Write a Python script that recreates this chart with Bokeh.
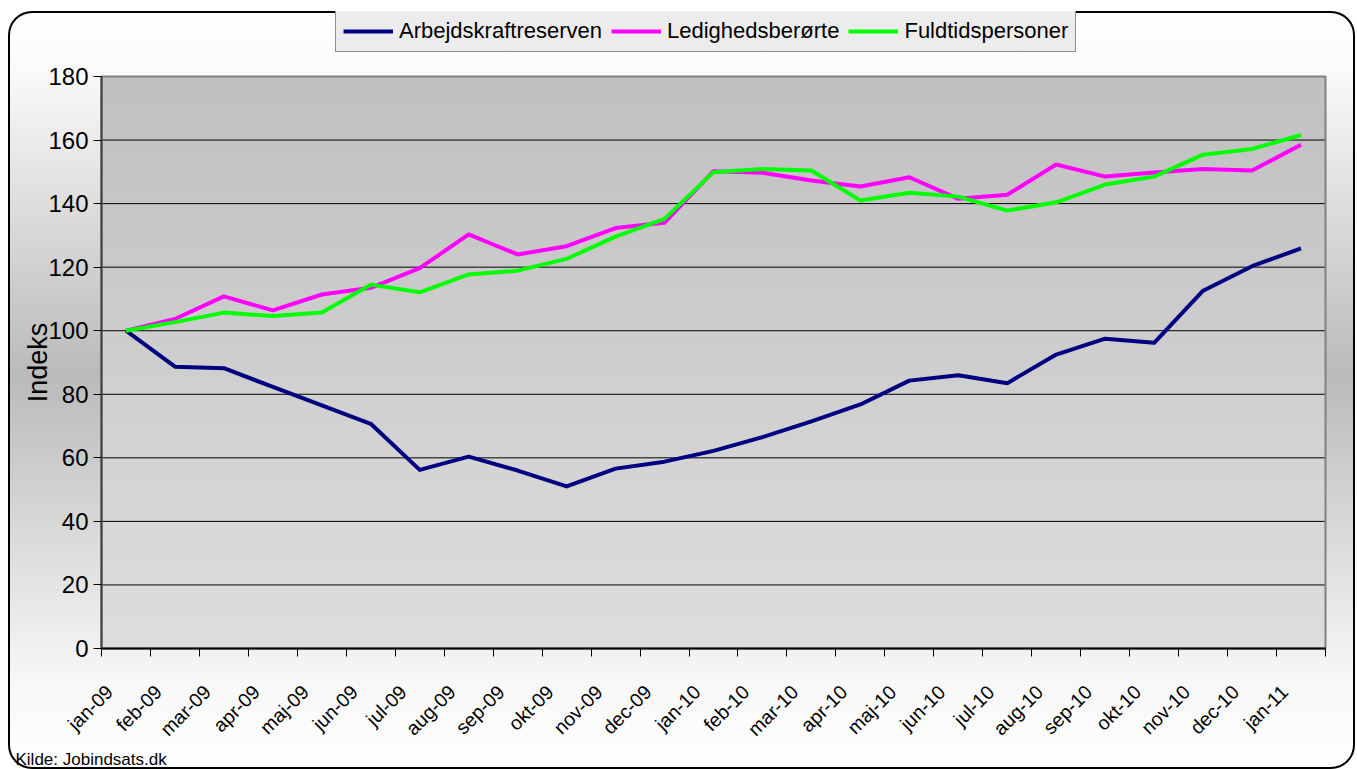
import numpy as np
from bokeh.plotting import figure
from bokeh.models import (FixedTicker, CustomJSTickFormatter, Legend, LegendItem, Label,
                          LinearAxis, Range1d)
from bokeh.embed import file_html
from bokeh.resources import INLINE

# ---------------- data ----------------
months = ["jan-09", "feb-09", "mar-09", "apr-09", "maj-09", "jun-09", "jul-09",
          "aug-09", "sep-09", "okt-09", "nov-09", "dec-09", "jan-10", "feb-10",
          "mar-10", "apr-10", "maj-10", "jun-10", "jul-10", "aug-10", "sep-10",
          "okt-10", "nov-10", "dec-10", "jan-11"]

arbejdskraftreserven = [100, 88.7, 88.2, 82.3, 76.5, 70.7, 56.2, 60.4, 56.0, 51.0,
                        56.6, 58.8, 62.2, 66.5, 71.5, 76.8, 84.3, 86.0, 83.5, 92.5,
                        97.5, 96.2, 112.6, 120.3, 125.9]
ledighedsberoerte = [100, 103.7, 110.8, 106.4, 111.4, 113.5, 119.7, 130.3, 124.0, 126.6,
                     132.3, 134.0, 150.2, 149.7, 147.3, 145.4, 148.3, 141.5, 142.8, 152.3,
                     148.5, 149.8, 150.9, 150.4, 158.5]
fuldtidspersoner = [100, 102.7, 105.7, 104.6, 105.7, 114.5, 112.1, 117.7, 118.9, 122.6,
                    129.6, 135.2, 149.9, 150.9, 150.4, 141.0, 143.4, 142.2, 137.8, 140.4,
                    146.0, 148.5, 155.4, 157.2, 161.6]

y_ticks = [0, 20, 40, 60, 80, 100, 120, 140, 160, 180]

FONT = "Liberation Sans"
n = len(months)
xs = [i + 0.5 for i in range(n)]
ymin, ymax = y_ticks[0], y_ticks[-1]

# ---------------- layout (pixels) ----------------
L, R, T, B = 93, 30, 65, 121          # space around the plot area
FW, FH = 1224, 572                    # plot area size
W, H = L + FW + R, T + FH + B
xpx = FW / n
ypx = FH / (ymax - ymin)

p = figure(width=W, height=H, output_backend="svg", toolbar_location=None,
           x_range=Range1d(-L / xpx, n + R / xpx),
           y_range=Range1d(ymin - B / ypx, ymax + T / ypx),
           x_axis_location=None, y_axis_location=None, min_border=0)
p.grid.visible = False
p.outline_line_color = None
p.background_fill_color = None
p.border_fill_color = None
p.styles = {
    "margin-left": "8px",
    "margin-top": "11px",
    "background": "linear-gradient(to bottom, #ffffff 0%, #fbfbfb 7%, #bababa 48%, #f8f8f8 89%, #ffffff 100%)",
    "box-shadow": "inset 0 0 0 2px #000000",
    "border-radius": "24px",
}

# plot-area vertical gradient (decorative background bands)
nb = 90
edges = np.linspace(ymin, ymax, nb + 1)
band_cols = []
for k in range(nb):
    t = k / (nb - 1)  # 0 bottom -> 1 top
    c = int(round(0xdd + (0xc0 - 0xdd) * t))
    band_cols.append("#%02x%02x%02x" % (c, c, c))
p.quad(left=0, right=n, bottom=edges[:-1], top=edges[1:], fill_color=band_cols,
       line_color=band_cols, line_width=1, level="image")

# horizontal grid lines
grid_vals = y_ticks[1:-1]
p.segment(x0=[0] * len(grid_vals), x1=[n] * len(grid_vals), y0=grid_vals, y1=grid_vals,
          line_color="#000000", line_width=1, level="underlay")
# plot-area border
p.quad(left=0, right=n, bottom=ymin, top=ymax, fill_color=None,
       line_color="#808080", line_width=2, level="underlay")

# lines
r1 = p.line(xs, arbejdskraftreserven, line_color="#000080", line_width=4, line_join="round")
r2 = p.line(xs, ledighedsberoerte, line_color="#ff00ff", line_width=4, line_join="round")
r3 = p.line(xs, fuldtidspersoner, line_color="#00ff00", line_width=4, line_join="round")

# y axis
ya = LinearAxis(fixed_location=0, bounds=(ymin, ymax))
ya.ticker = FixedTicker(ticks=y_ticks)
ya.axis_label = "Indeks"
ya.axis_label_text_font = FONT
ya.axis_label_text_font_style = "normal"
ya.axis_label_text_font_size = "27px"
ya.axis_label_text_color = "#000000"
ya.axis_label_standoff = -8
ya.major_label_text_font = FONT
ya.major_label_text_font_size = "24px"
ya.major_label_text_color = "#000000"
ya.major_label_standoff = 5
ya.major_tick_out = 8
ya.major_tick_in = 0
ya.major_tick_line_color = "#000000"
ya.minor_tick_line_color = None
ya.axis_line_color = "#404040"
ya.axis_line_width = 2
p.add_layout(ya, "left")

# x axis: labels near category centres, tick marks at category boundaries
xa = LinearAxis(fixed_location=ymin, bounds=(0, n))
xa.ticker = FixedTicker(ticks=[i + 0.16 for i in range(n)], minor_ticks=list(range(n + 1)))
xa.formatter = CustomJSTickFormatter(args=dict(labels=months),
                                     code="return labels[Math.floor(tick + 1e-6)] || '';")
xa.major_label_orientation = np.pi / 4
xa.major_label_text_font = FONT
xa.major_label_text_font_size = "19.5px"
xa.major_label_text_color = "#000000"
xa.major_label_standoff = 32
xa.major_tick_out = 0
xa.major_tick_in = 0
xa.major_tick_line_color = None
xa.minor_tick_out = 8
xa.minor_tick_in = 0
xa.minor_tick_line_color = "#000000"
xa.minor_tick_line_width = 1
xa.axis_line_color = "#000000"
xa.axis_line_width = 2
p.add_layout(xa, "below")

# legend (top, above the plot area)
lg = Legend(items=[LegendItem(label="Arbejdskraftreserven", renderers=[r1]),
                   LegendItem(label="Ledighedsberørte", renderers=[r2]),
                   LegendItem(label="Fuldtidspersoner", renderers=[r3])],
            orientation="horizontal", location=(327, H - 41))
lg.label_text_font = FONT
lg.label_text_font_size = "22px"
lg.label_text_color = "#000000"
lg.glyph_width = 50
lg.glyph_height = 20
lg.label_height = 20
lg.label_standoff = 6
lg.spacing = 9
lg.padding = 7
lg.margin = 0
lg.background_fill_color = "#ececec"
lg.background_fill_alpha = 1
lg.border_line_color = "#333333"
lg.border_line_width = 1
p.add_layout(lg, "center")

# source note
p.add_layout(Label(x=7, y=10, x_units="screen", y_units="screen",
                   text="Kilde: Jobindsats.dk", text_font=FONT, text_font_size="17px",
                   text_color="#000000", text_baseline="alphabetic"))

open("out.html", "w").write(file_html(p, INLINE))
